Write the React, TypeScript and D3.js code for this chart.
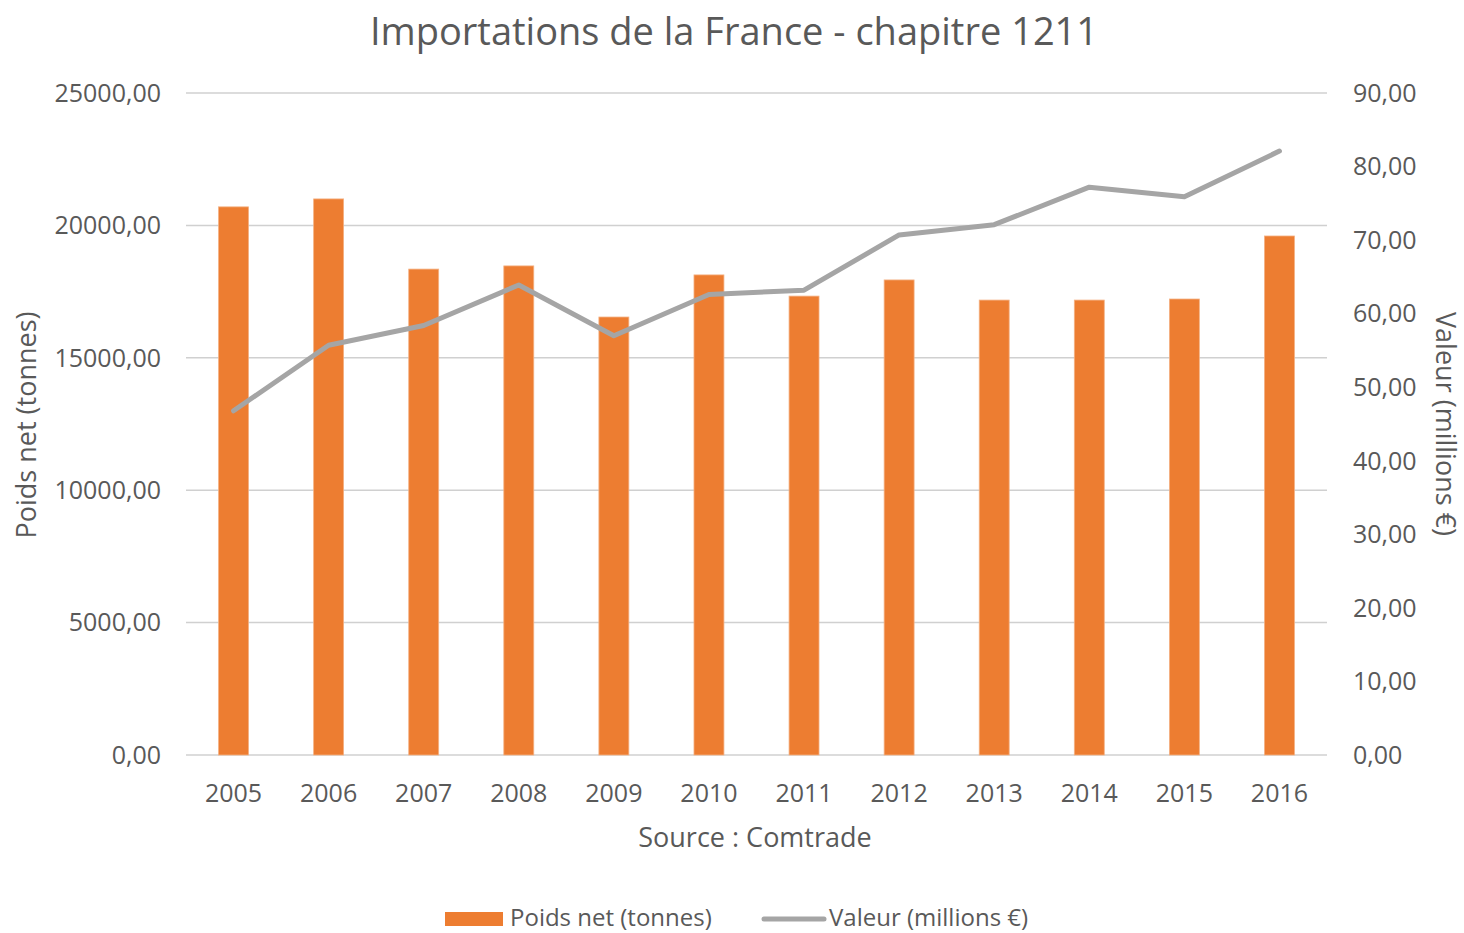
import React, { useEffect, useRef } from 'react';
import * as d3 from 'd3';

const years = ['2005', '2006', '2007', '2008', '2009', '2010', '2011', '2012', '2013', '2014', '2015', '2016'];
const poidsNet = [20700, 21000, 18350, 18470, 16540, 18130, 17330, 17940, 17180, 17180, 17220, 19600];
const valeur = [46.8, 55.7, 58.4, 63.9, 57.0, 62.6, 63.2, 70.7, 72.1, 77.2, 75.9, 82.1];
const leftTicks = [0, 5000, 10000, 15000, 20000, 25000];
const rightTicks = [0, 10, 20, 30, 40, 50, 60, 70, 80, 90];

const fmt = (v: number) => v.toFixed(2).replace('.', ',');

const App = () => {
    const ref = useRef<SVGSVGElement | null>(null);

    useEffect(() => {
        const svgWidth = 1464, svgHeight = 933;
        const margin = { top: 93, right: 137, bottom: 178, left: 186 };
        const width = svgWidth - margin.left - margin.right;
        const height = svgHeight - margin.top - margin.bottom;
        const textColor = '#595959';
        const font = "'Open Sans', sans-serif";

        const svg = d3.select(ref.current);
        svg.selectAll('*').remove();
        svg.attr('width', svgWidth).attr('height', svgHeight)
            .style('font-family', font);

        const chart = svg.append('g')
            .attr('transform', `translate(${margin.left},${margin.top})`);

        const x = d3.scaleBand().domain(years).range([0, width]).padding(0);
        const yL = d3.scaleLinear().domain([0, 25000]).range([height, 0]);
        const yR = d3.scaleLinear().domain([0, 90]).range([height, 0]);

        // gridlines
        chart.selectAll('.grid')
            .data(leftTicks)
            .enter().append('line')
            .attr('x1', 0).attr('x2', width)
            .attr('y1', d => yL(d)).attr('y2', d => yL(d))
            .attr('stroke', '#d0d0d0')
            .attr('stroke-width', 1.5);

        // bars
        const barW = x.bandwidth() * 0.315;
        chart.selectAll('.bar')
            .data(years)
            .enter().append('rect')
            .attr('x', d => x(d)! + x.bandwidth() / 2 - barW / 2)
            .attr('y', (d, i) => yL(poidsNet[i]))
            .attr('width', barW)
            .attr('height', (d, i) => height - yL(poidsNet[i]))
            .attr('fill', '#ed7d31')
            .attr('stroke', '#f4b183')
            .attr('stroke-width', 0.8);

        // line
        const line = d3.line<number>()
            .x((d, i) => x(years[i])! + x.bandwidth() / 2)
            .y(d => yR(d));
        chart.append('path')
            .datum(valeur)
            .attr('fill', 'none')
            .attr('stroke', '#a5a5a5')
            .attr('stroke-width', 5)
            .attr('stroke-linejoin', 'round')
            .attr('stroke-linecap', 'round')
            .attr('d', line);

        // left axis labels
        chart.selectAll('.lt')
            .data(leftTicks)
            .enter().append('text')
            .attr('x', -25)
            .attr('y', d => yL(d))
            .attr('dy', '0.35em')
            .attr('text-anchor', 'end')
            .attr('fill', textColor)
            .style('font-size', '25px')
            .text(d => fmt(d));

        // right axis labels
        chart.selectAll('.rt')
            .data(rightTicks)
            .enter().append('text')
            .attr('x', width + 26)
            .attr('y', d => yR(d))
            .attr('dy', '0.35em')
            .attr('text-anchor', 'start')
            .attr('fill', textColor)
            .style('font-size', '25px')
            .text(d => fmt(d));

        // x labels
        chart.selectAll('.xl')
            .data(years)
            .enter().append('text')
            .attr('x', d => x(d)! + x.bandwidth() / 2)
            .attr('y', height + 47)
            .attr('text-anchor', 'middle')
            .attr('fill', textColor)
            .style('font-size', '25px')
            .text(d => d);

        // x axis title
        svg.append('text')
            .attr('x', 755)
            .attr('y', 847)
            .attr('text-anchor', 'middle')
            .attr('fill', textColor)
            .style('font-size', '27px')
            .text('Source : Comtrade');

        // y axis titles
        svg.append('text')
            .attr('transform', 'translate(36,425) rotate(-90)')
            .attr('text-anchor', 'middle')
            .attr('fill', textColor)
            .style('font-size', '27px')
            .text('Poids net (tonnes)');

        svg.append('text')
            .attr('transform', 'translate(1436,424) rotate(90)')
            .attr('text-anchor', 'middle')
            .attr('fill', textColor)
            .style('font-size', '27px')
            .text('Valeur (millions €)');

        // title
        svg.append('text')
            .attr('x', 734)
            .attr('y', 45)
            .attr('text-anchor', 'middle')
            .attr('fill', textColor)
            .style('font-size', '38px')
            .text('Importations de la France - chapitre 1211');

        // legend
        const legend = svg.append('g');
        legend.append('rect')
            .attr('x', 445).attr('y', 912)
            .attr('width', 58).attr('height', 14)
            .attr('fill', '#ed7d31');
        legend.append('text')
            .attr('x', 510).attr('y', 926)
            .attr('fill', textColor)
            .style('font-size', '24px')
            .text('Poids net (tonnes)');
        legend.append('line')
            .attr('x1', 764).attr('x2', 824)
            .attr('y1', 919).attr('y2', 919)
            .attr('stroke', '#a5a5a5')
            .attr('stroke-width', 5)
            .attr('stroke-linecap', 'round');
        legend.append('text')
            .attr('x', 829).attr('y', 926)
            .attr('fill', textColor)
            .style('font-size', '24px')
            .text('Valeur (millions €)');
    }, []);

    return <svg ref={ref} style={{ position: 'absolute', left: 0, top: 0 }} />;
};

export default App;
